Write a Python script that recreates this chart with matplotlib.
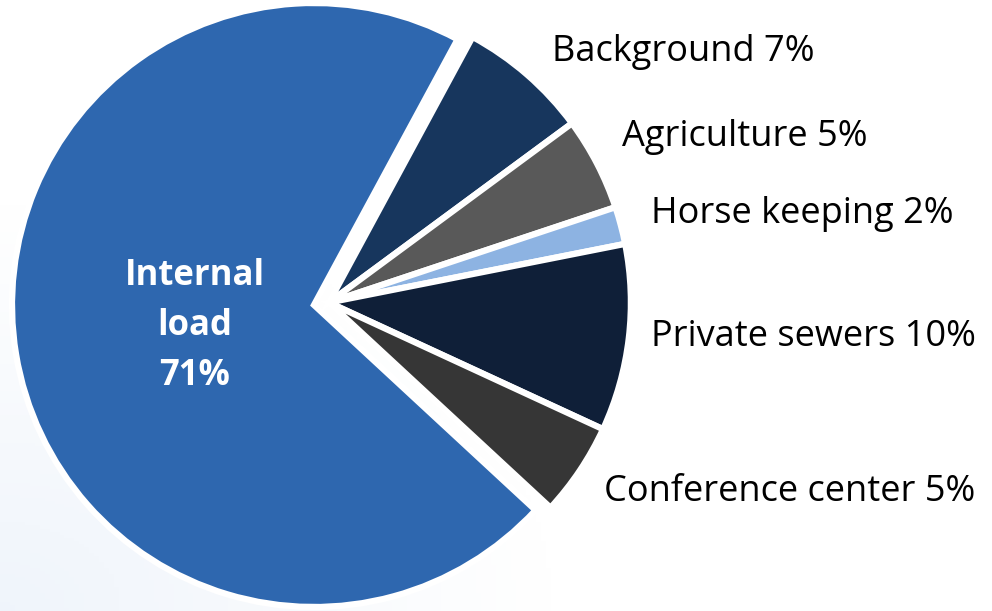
import matplotlib
matplotlib.use("Agg")
import matplotlib.pyplot as plt
import numpy as np

# slices, clockwise from the top boundary of "Internal load"
labels = ["Background", "Agriculture", "Horse keeping", "Private sewers",
          "Conference center", "Internal load"]
shares = [7, 5, 2, 10, 5, 71]
colors = ["#17365D", "#595959", "#8DB3E2", "#0F1F38", "#363636", "#2E67AF"]

W, H = 992, 611
fig = plt.figure(figsize=(W / 100, H / 100), dpi=100)

# faint blue wash in the lower-left corner
bg = fig.add_axes([0, 0, 1, 1])
bg.set_axis_off()
yy, xx = np.mgrid[0:1:200j, 0:1:200j]
wash = np.clip(1 - np.hypot(xx * 1.8, yy * 1.5), 0, 1)
rgb = np.ones((200, 200, 3))
tint = np.array([0.94, 0.96, 0.985])
rgb = rgb * (1 - wash[..., None]) + tint * wash[..., None]
bg.imshow(rgb, origin="lower", extent=(0, 1, 0, 1), aspect="auto")

cx, cy, r = 314, 305, 302
ax = fig.add_axes([(cx - r) / W, (H - cy - r) / H, 2 * r / W, 2 * r / H])
ax.set_axis_off()
start = 61.6
wedges, _ = ax.pie(shares, colors=colors, startangle=start, counterclock=False,
                   wedgeprops=dict(edgecolor="white", linewidth=4.5))

# pull the five small slices out together as one group
small = wedges[:5]
mid = np.deg2rad((small[0].theta2 + small[-1].theta1) / 2)
shift = 0.05
for w in small:
    w.set_center((shift * np.cos(mid), shift * np.sin(mid)))
for w in wedges:
    w.set_clip_on(False)
ax.set_xlim(-1, 1)
ax.set_ylim(-1, 1)

font = "Open Sans"
label_pos = [(552, 52), (622, 137), (651, 214), (651, 337), (604, 492)]
for (x, y), name, pct in zip(label_pos, labels[:5], shares[:5]):
    fig.text(x / W, 1 - y / H, f"{name} {pct}%", fontsize=26, family=font,
             color="black", ha="left", va="center")

fig.text(195 / W, 1 - 326 / H, f"Internal\nload\n{shares[5]}%", fontsize=25,
         family=font, fontweight="bold", color="white", ha="center",
         va="center", linespacing=1.52)

fig.savefig("out.png", dpi=100)
